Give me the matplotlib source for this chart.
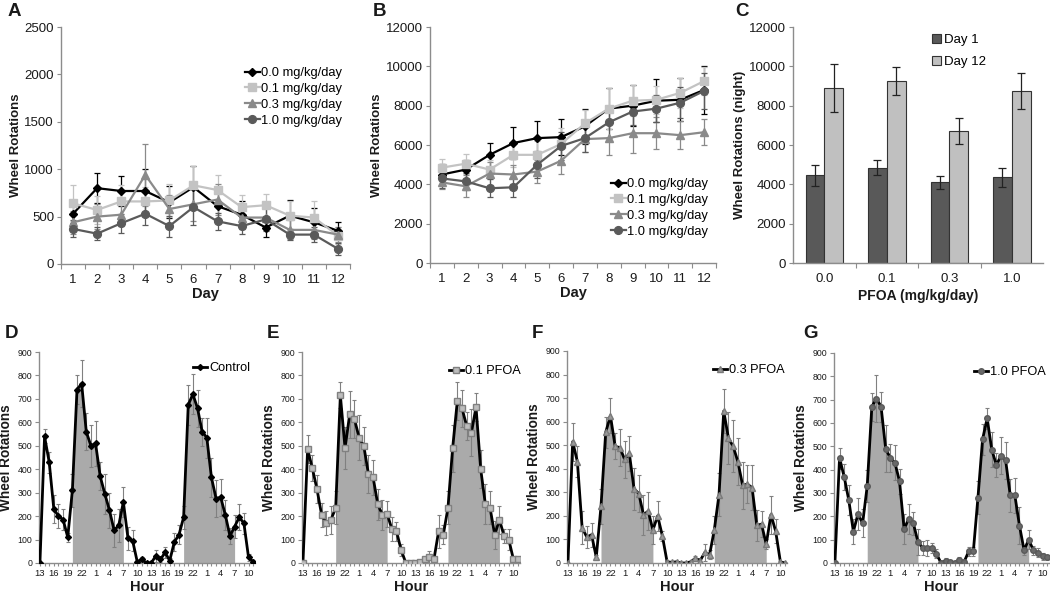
import numpy as np
import matplotlib
matplotlib.use("Agg")
import matplotlib.pyplot as plt
from matplotlib.lines import Line2D

plt.rcParams['font.family'] = ['Liberation Sans', 'DejaVu Sans']

# ---------------- data ----------------
days = [1, 2, 3, 4, 5, 6, 7, 8, 9, 10, 11, 12]
dose_labels = ["0.0 mg/kg/day", "0.1 mg/kg/day", "0.3 mg/kg/day", "1.0 mg/kg/day"]

a_00 = [530, 800, 770, 770, 650, 810, 610, 520, 385, 510, 440, 350]
a_01 = [640, 570, 660, 660, 670, 830, 780, 600, 620, 510, 490, 300]
a_03 = [440, 500, 520, 940, 580, 630, 680, 490, 490, 360, 360, 310]
a_10 = [370, 320, 430, 530, 400, 600, 450, 400, 470, 310, 310, 160]
ea_00 = [100, 160, 160, 230, 170, 220, 150, 140, 100, 170, 150, 90]
ea_01 = [190, 150, 170, 150, 170, 200, 160, 130, 120, 150, 170, 90]
ea_03 = [120, 130, 120, 330, 150, 180, 160, 120, 130, 100, 100, 80]
ea_10 = [90, 70, 100, 120, 110, 190, 90, 80, 120, 60, 80, 60]

b_00 = [4500, 4750, 5500, 6100, 6350, 6400, 6950, 7850, 8000, 8250, 8300, 8800]
b_01 = [4850, 5050, 4750, 5500, 5500, 6050, 7100, 7850, 8250, 8300, 8650, 9250]
b_03 = [4100, 3900, 4550, 4500, 4650, 5200, 6300, 6350, 6600, 6600, 6500, 6650]
b_10 = [4300, 4150, 3800, 3850, 5000, 5950, 6350, 7150, 7700, 7850, 8150, 8750]
eb_00 = [550, 500, 600, 800, 850, 900, 900, 1050, 1050, 1100, 1100, 1200]
eb_01 = [450, 500, 500, 600, 700, 800, 700, 1050, 800, 700, 750, 700]
eb_03 = [330, 550, 600, 500, 600, 650, 650, 850, 1000, 800, 700, 650]
eb_10 = [470, 450, 450, 500, 700, 700, 700, 800, 700, 700, 800, 900]

c_doses = ["0.0", "0.1", "0.3", "1.0"]
c_day1 = [4450, 4850, 4100, 4350]
c_day1_err = [550, 400, 330, 470]
c_day12 = [8900, 9250, 6700, 8750]
c_day12_err = [1200, 700, 650, 900]

hour_tick_labels = ["13", "16", "19", "22", "1", "4", "7", "10",
                    "13", "16", "19", "22", "1", "4", "7", "10"]

d_ctrl = [0, 540, 430, 230, 200, 185, 110, 310, 740, 765, 560, 500, 510, 370, 295, 225,
          140, 160, 260, 105, 95, 5, 15, 0, 0, 30, 15, 45, 10, 90, 120, 195, 675, 720,
          660, 560, 535, 365, 275, 280, 205, 115, 155, 195, 170, 25, 5]
d_err = [0, 30, 45, 60, 50, 45, 20, 70, 60, 100, 80, 90, 95, 60, 85, 75, 70, 70, 65, 50,
         45, 5, 10, 0, 0, 25, 10, 25, 10, 40, 40, 50, 85, 85, 80, 60, 85, 85, 80, 80,
         65, 35, 50, 55, 45, 15, 5]
e_pfoa01 = [0, 485, 405, 315, 205, 170, 185, 235, 715, 490, 635, 615, 535, 500, 380, 365,
            250, 205, 210, 145, 135, 55, 0, 0, 0, 5, 15, 25, 15, 135, 120, 235, 490, 690,
            660, 585, 555, 665, 400, 250, 235, 120, 185, 115, 100, 15, 15]
e_err = [0, 60, 55, 60, 50, 50, 60, 70, 55, 90, 100, 80, 95, 80, 80, 75, 65, 65, 55, 50,
         40, 25, 0, 0, 0, 5, 10, 25, 10, 70, 40, 70, 100, 80, 80, 60, 100, 60, 80, 85,
         70, 60, 60, 30, 45, 10, 5]
f_pfoa03 = [0, 515, 430, 150, 110, 120, 25, 240, 555, 625, 495, 490, 440, 465, 315, 295,
            205, 220, 140, 200, 115, 5, 3, 5, 0, 0, 5, 20, 10, 45, 35, 140, 290, 645,
            530, 495, 430, 330, 335, 320, 160, 165, 80, 205, 135, 5, 0]
f_err = [0, 80, 65, 70, 45, 50, 10, 75, 65, 75, 55, 80, 80, 75, 90, 80, 85, 80, 60, 65,
         20, 5, 3, 5, 0, 0, 5, 10, 10, 35, 20, 60, 90, 95, 110, 110, 100, 100, 80, 95,
         65, 55, 20, 80, 50, 5, 3]
g_pfoa10 = [0, 450, 370, 270, 135, 210, 170, 330, 670, 705, 670, 490, 450, 430, 350, 145,
            190, 170, 90, 65, 65, 65, 40, 0, 10, 5, 0, 15, 5, 50, 50, 280, 530, 620,
            485, 420, 460, 440, 290, 290, 160, 55, 100, 55, 45, 30, 25]
g_err = [0, 45, 55, 65, 55, 70, 60, 70, 60, 100, 65, 100, 60, 75, 55, 65, 65, 50, 55, 30,
         35, 20, 20, 0, 10, 5, 0, 10, 5, 20, 20, 70, 65, 45, 75, 50, 80, 80, 70, 75,
         80, 20, 40, 20, 20, 15, 10]
dark_phases = [(7, 18), (31, 42)]  # index ranges of shaded (dark) periods

# ---------------- style ----------------
W, H = 1050, 593
fig = plt.figure(figsize=(W / 100, H / 100), dpi=100)

SPINE = '#8c8c8c'
TXT = '#1a1a1a'


def px_axes(l, t, r, b):
    return fig.add_axes([l / W, 1 - b / H, (r - l) / W, (b - t) / H])


def style_axes(ax, ytick_size, xtick_size):
    for s in ['top', 'right']:
        ax.spines[s].set_visible(False)
    for s in ['left', 'bottom']:
        ax.spines[s].set_color(SPINE)
        ax.spines[s].set_linewidth(1.0)
    ax.tick_params(axis='y', direction='out', length=3, width=0.8, color=SPINE,
                   labelsize=ytick_size, labelcolor=TXT, pad=2)
    ax.tick_params(axis='x', labelsize=xtick_size, labelcolor=TXT)


series_styles = [
    dict(color='black', marker='D', ms=3.6),
    dict(color='#c3c3c3', marker='s', ms=5.2),
    dict(color='#8a8a8a', marker='^', ms=5.2),
    dict(color='#5a5a5a', marker='o', ms=5.6),
]


def line_panel(ax, series, errs, ymax, ystep):
    x = np.array(days)
    handles = []
    for vals, err, st, lab in zip(series, errs, series_styles, dose_labels):
        ax.errorbar(x, vals, yerr=err, color=st['color'], ecolor=st['color'],
                    elinewidth=0.9, capsize=2, capthick=0.9, lw=1.6,
                    marker=st['marker'], ms=st['ms'], mec=st['color'],
                    mfc=st['color'])
        handles.append(Line2D([], [], color=st['color'], lw=1.6, marker=st['marker'],
                              ms=st['ms'], mec=st['color'], mfc=st['color'], label=lab))
    ax.set_xlim(0.5, 12.5)
    ax.set_ylim(0, ymax)
    ax.set_yticks(np.arange(0, ymax + 1, ystep))
    ax.set_xticks(x)
    ax.set_xticklabels([str(d) for d in days])
    ax.set_xticks(np.arange(0.5, 13, 1), minor=True)
    ax.tick_params(axis='x', which='major', length=0, pad=7)
    ax.tick_params(axis='x', which='minor', length=3.5, width=0.8, color=SPINE,
                   direction='out')
    ax.set_xlabel('Day', fontsize=10.5, fontweight='bold', labelpad=1, color=TXT)
    ax.set_ylabel('Wheel Rotations', fontsize=9.5, fontweight='bold', color=TXT,
                  labelpad=2)
    return handles


# ---------------- Panel A ----------------
axA = px_axes(61, 27, 350, 264)
style_axes(axA, 9.5, 9.5)
hA = line_panel(axA, [a_00, a_01, a_03, a_10], [ea_00, ea_01, ea_03, ea_10], 2500, 500)
axA.legend(handles=hA, loc='upper left', bbox_to_anchor=(245 / W, 1 - 67 / H),
           bbox_transform=fig.transFigure, frameon=False, fontsize=9.3,
           handlelength=1.15, handletextpad=0.1, labelspacing=0.3, borderpad=0,
           borderaxespad=0)

# ---------------- Panel B ----------------
axB = px_axes(430, 27, 716, 263)
style_axes(axB, 9.5, 9.5)
hB = line_panel(axB, [b_00, b_01, b_03, b_10], [eb_00, eb_01, eb_03, eb_10], 12000, 2000)
axB.legend(handles=hB, loc='upper left', bbox_to_anchor=(611 / W, 1 - 178 / H),
           bbox_transform=fig.transFigure, frameon=False, fontsize=9.3,
           handlelength=1.15, handletextpad=0.1, labelspacing=0.3, borderpad=0,
           borderaxespad=0)

# ---------------- Panel C ----------------
axC = px_axes(793, 27, 1043, 263)
style_axes(axC, 9.5, 9.5)
xc = np.arange(len(c_doses))
bw = 0.3
axC.bar(xc - bw / 2, c_day1, bw, color='#595959', edgecolor='#333333', lw=0.8,
        label='Day 1', zorder=2)
axC.bar(xc + bw / 2, c_day12, bw, color='#c0c0c0', edgecolor='#333333', lw=0.8,
        label='Day 12', zorder=2)
axC.errorbar(xc - bw / 2, c_day1, yerr=c_day1_err, fmt='none', ecolor='#222222',
             elinewidth=0.9, capsize=3, capthick=0.9, zorder=3)
axC.errorbar(xc + bw / 2, c_day12, yerr=c_day12_err, fmt='none', ecolor='#222222',
             elinewidth=0.9, capsize=3, capthick=0.9, zorder=3)
axC.set_xlim(-0.5, 3.5)
axC.set_ylim(0, 12000)
axC.set_yticks(np.arange(0, 12001, 2000))
axC.set_xticks(xc)
axC.set_xticklabels(c_doses)
axC.set_xticks(np.arange(0.5, 3.0, 1), minor=True)
axC.tick_params(axis='x', which='major', length=0, pad=7)
axC.tick_params(axis='x', which='minor', length=3.5, width=0.8, color=SPINE,
                direction='out')
axC.set_xlabel('PFOA (mg/kg/day)', fontsize=10, fontweight='bold', labelpad=3,
               color=TXT)
axC.set_ylabel('Wheel Rotations (night)', fontsize=9.5, fontweight='bold',
               color=TXT, labelpad=2)
axC.legend(loc='upper left', bbox_to_anchor=(932 / W, 1 - 34 / H),
           bbox_transform=fig.transFigure, frameon=False, fontsize=9.5,
           handlelength=0.7, handleheight=0.7, handletextpad=0.2,
           labelspacing=0.75, borderpad=0, borderaxespad=0)

# ---------------- Bottom panels ----------------
bottom_specs = [
    ('D', d_ctrl, d_err, 'Control', dict(marker='D', ms=3.0, mfc='black', mec='black'),
     (39, 352, 255, 563), (193, 368)),
    ('E', e_pfoa01, e_err, '0.1 PFOA', dict(marker='s', ms=4.2, mfc='#bdbdbd', mec='#808080'),
     (302, 352, 520, 563), (449, 371)),
    ('F', f_pfoa03, f_err, '0.3 PFOA', dict(marker='^', ms=3.8, mfc='#9a9a9a', mec='#7a7a7a'),
     (567, 351, 787, 563), (713, 370)),
    ('G', g_pfoa10, g_err, '1.0 PFOA', dict(marker='o', ms=4.0, mfc='#6a6a6a', mec='#5a5a5a'),
     (834, 353, 1049, 563), (974, 372)),
]

for letter, vals, err, lab, mk, box, legpos in bottom_specs:
    ax = px_axes(*box)
    style_axes(ax, 6.3, 6.8)
    xs = np.arange(len(vals))
    vals = np.array(vals)
    for s0, s1 in dark_phases:
        ax.fill_between(xs[s0:s1 + 1], 0, vals[s0:s1 + 1], color='#aaaaaa', lw=0,
                        zorder=1)
    ax.errorbar(xs, vals, yerr=err, fmt='none', ecolor='#808080', elinewidth=0.8,
                capsize=1.5, capthick=0.8, zorder=2)
    ax.plot(xs, vals, color='black', lw=2, zorder=3, label=lab, **mk)
    ax.set_xlim(-0.2, len(vals) - 0.6)
    ax.set_ylim(0, 900)
    ax.set_yticks(np.arange(0, 901, 100))
    ax.set_xticks(np.arange(0, len(vals), 3))
    ax.set_xticklabels(hour_tick_labels)
    ax.set_xticks(xs, minor=True)
    ax.tick_params(axis='x', which='major', length=2.5, width=0.8, color=SPINE,
                   direction='out', pad=2)
    ax.tick_params(axis='x', which='minor', length=2.5, width=0.8, color=SPINE,
                   direction='out')
    ax.set_xlabel('Hour', fontsize=10.5, fontweight='bold', labelpad=1, color=TXT)
    ax.set_ylabel('Wheel Rotations', fontsize=9.8, fontweight='bold', color=TXT,
                  labelpad=3)
    ax.legend(loc='center left', bbox_to_anchor=(legpos[0] / W, 1 - legpos[1] / H),
              bbox_transform=fig.transFigure, frameon=False, fontsize=9.2,
              handlelength=1.1, handletextpad=0.15, borderpad=0, borderaxespad=0)

# ---------------- panel letters ----------------
letters = [('A', 14, 11), ('B', 380, 11), ('C', 742, 11),
           ('D', 11, 334), ('E', 273, 334), ('F', 537, 334), ('G', 810, 334)]
for t, x, y in letters:
    fig.text(x / W, 1 - y / H, t, fontsize=13.5, fontweight='bold', ha='center',
             va='center', color=TXT)

fig.savefig('out.png', dpi=100)
